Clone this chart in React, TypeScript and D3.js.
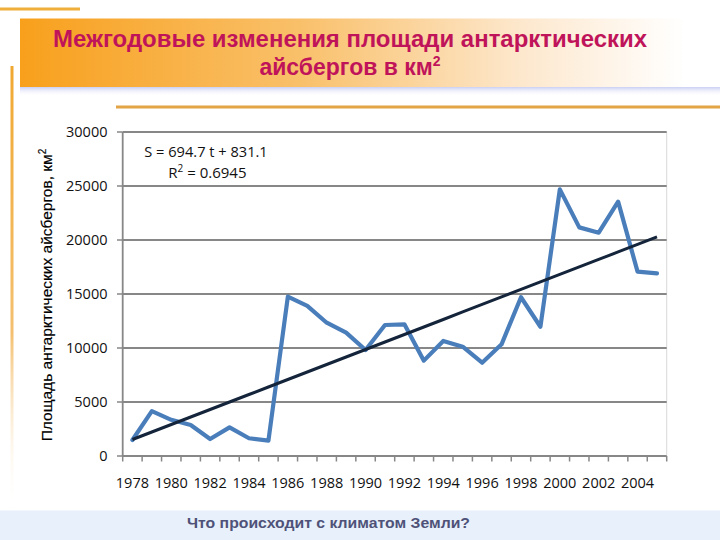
import React from "react";
import * as d3 from "d3";

const years: number[] = [1978,1979,1980,1981,1982,1983,1984,1985,1986,1987,1988,1989,1990,1991,1992,1993,1994,1995,1996,1997,1998,1999,2000,2001,2002,2003,2004,2005];
const area: number[] = [1480,4150,3350,2870,1570,2650,1640,1420,14750,13900,12340,11420,9810,12130,12190,8830,10650,10120,8640,10340,14700,11970,24690,21170,20680,23550,17070,16910];
const yTicks: number[] = [0,5000,10000,15000,20000,25000,30000];
const xLabelYears: number[] = [1978,1980,1982,1984,1986,1988,1990,1992,1994,1996,1998,2000,2002,2004];
const trendSlope = 694.7;
const trendIntercept = 831.1;
const titleLine1 = "Межгодовые изменения площади антарктических";
const titleLine2 = "айсбергов в км";
const yLabel = "Площадь антарктических айсбергов, км";
const footer = "Что происходит с климатом Земли?";

export default function App() {
  const W = 720, H = 540;
  const x = d3.scaleBand<number>().domain(years).range([122.7, 666.7]).padding(0);
  const y = d3.scaleLinear().domain([0, 30000]).range([456, 132]);
  const cx = (yr: number) => (x(yr) as number) + x.bandwidth() / 2;
  const line = d3.line<number>().x((_, i) => cx(years[i])).y((d) => y(d));
  const trend = years.map((_, i) => trendSlope * (i + 1) + trendIntercept);
  const boundaries = years.map((yr) => x(yr) as number).concat([x.range()[1]]);
  const tickFont = "'Open Sans', 'DejaVu Sans', sans-serif";
  return (
    <svg width={W} height={H} style={{ position: "absolute", left: 0, top: 0, display: "block" }}>
      <defs>
        <linearGradient id="banner" x1="0" x2="1" y1="0" y2="0">
          <stop offset="0" stopColor="#F8A01C" />
          <stop offset="0.4" stopColor="#F9C06A" />
          <stop offset="0.72" stopColor="#FDE8CE" />
          <stop offset="0.95" stopColor="#FFFFFF" />
        </linearGradient>
        <linearGradient id="shadow" x1="0" x2="0" y1="0" y2="1">
          <stop offset="0" stopColor="#C4CAF2" stopOpacity="0.9" />
          <stop offset="1" stopColor="#FFFFFF" stopOpacity="0" />
        </linearGradient>
        <linearGradient id="vline" x1="0" x2="0" y1="0" y2="1">
          <stop offset="0" stopColor="#F0A830" />
          <stop offset="0.6" stopColor="#F4C070" />
          <stop offset="1" stopColor="#FFFFFF" stopOpacity="0" />
        </linearGradient>
      </defs>
      <rect x={0} y={0} width={W} height={H} fill="#FFFFFF" />
      {/* decorations */}
      <line x1={0} x2={80} y1={9} y2={9} stroke="#F0AE3A" strokeWidth={3} />
      <rect x={20} y={87} width={700} height={9} fill="url(#shadow)" />
      <rect x={20} y={18.5} width={700} height={68.5} fill="url(#banner)" />
      <rect x={10.5} y={66} width={3} height={446} fill="url(#vline)" />
      <line x1={116} x2={720} y1={107} y2={107} stroke="#E2A444" strokeWidth={3} />
      <text x={350} y={46.7} textAnchor="middle" fill="#C0145A" fontFamily="'Liberation Sans', Arial, sans-serif" fontWeight="bold" fontSize={23} textLength={594} lengthAdjust="spacingAndGlyphs">{titleLine1}</text>
      <text x={350} y={75} textAnchor="middle" fill="#C0145A" fontFamily="'Liberation Sans', Arial, sans-serif" fontWeight="bold" fontSize={23}>
        {titleLine2}<tspan dy={-9} fontSize={14}>2</tspan>
      </text>
      {/* footer */}
      <rect x={0} y={510.5} width={W} height={29.5} fill="#E7F0FB" />
      <text x={328.5} y={527.5} textAnchor="middle" fill="#4F5278" fontFamily="'Liberation Sans', Arial, sans-serif" fontWeight="bold" fontSize={15.5} textLength={283} lengthAdjust="spacingAndGlyphs">{footer}</text>
      {/* plot frame */}
      <line x1={666.7} x2={666.7} y1={132} y2={456} stroke="#D9D9D9" strokeWidth={1} />
      {yTicks.map((t) => (
        <g key={t}>
          <line x1={122.7} x2={666.7} y1={y(t)} y2={y(t)} stroke="#878787" strokeWidth={1.8} />
          <line x1={117} x2={122.7} y1={y(t)} y2={y(t)} stroke="#878787" strokeWidth={1.5} />
          <text x={107.5} y={y(t)} dy="0.36em" textAnchor="end" fontFamily={tickFont} fontSize={14.5} fill="#111">{t}</text>
        </g>
      ))}
      <line x1={122.7} x2={122.7} y1={132} y2={456} stroke="#878787" strokeWidth={1.8} />
      {boundaries.map((b, i) => (
        <line key={i} x1={b} x2={b} y1={456} y2={461.5} stroke="#878787" strokeWidth={1.5} />
      ))}
      {xLabelYears.map((yr) => (
        <text key={yr} x={cx(yr)} y={487.5} textAnchor="middle" fontFamily={tickFont} fontSize={14.5} fill="#111">{yr}</text>
      ))}
      {/* data */}
      <path d={line(area) || ""} fill="none" stroke="#4A7EBB" strokeWidth={4.2} strokeLinejoin="round" strokeLinecap="round" />
      <path d={line(trend) || ""} fill="none" stroke="#14243A" strokeWidth={3} />
      {/* equation */}
      <text x={144.3} y={156.5} fontFamily={tickFont} fontSize={15} fill="#111" textLength={123.4} lengthAdjust="spacingAndGlyphs">S = 694.7 t + 831.1</text>
      <text x={168.3} y={177.5} fontFamily={tickFont} fontSize={15} fill="#111">R<tspan dy={-6} fontSize={10}>2</tspan><tspan dy={6}> = 0.6945</tspan></text>
      {/* y label */}
      <text transform="translate(51.5,295) rotate(-90)" textAnchor="middle" fontFamily="'Liberation Sans', Arial, sans-serif" fontSize={15.5} fill="#000" stroke="#000" strokeWidth={0.15}>
        {yLabel}<tspan dy={-6} fontSize={10}>2</tspan>
      </text>
    </svg>
  );
}
